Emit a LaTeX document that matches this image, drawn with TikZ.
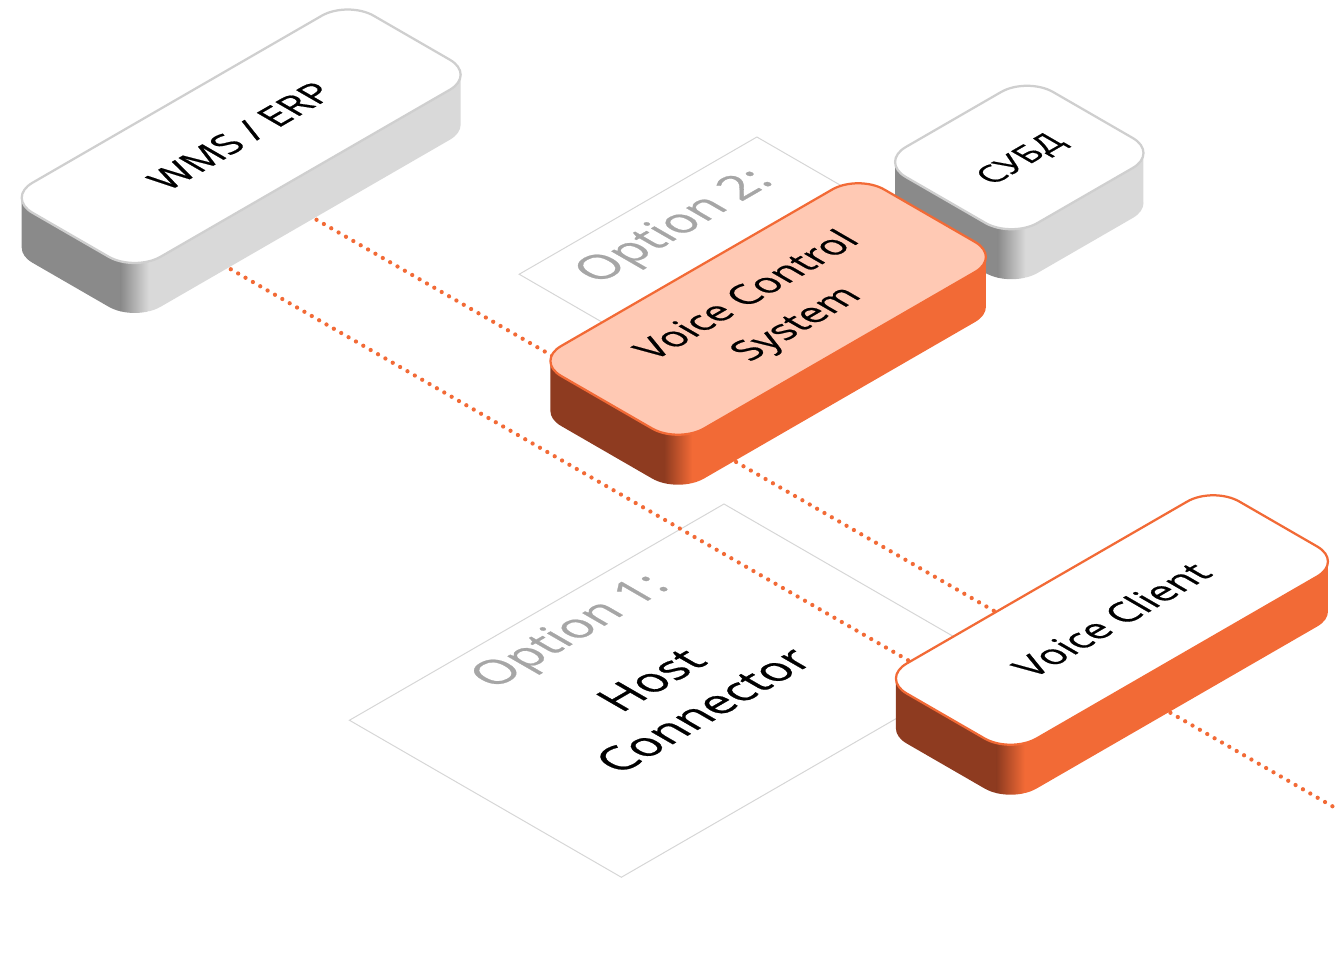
\documentclass[tikz,border=0pt]{standalone}
\usepackage{fontspec}
\setmainfont{Open Sans}
\newfontfamily\labelfont{Open Sans}[FakeBold=0.6]
\definecolor{brand}{HTML}{F26A36}
\definecolor{branddark}{HTML}{8E3B20}
\definecolor{brandpale}{HTML}{FFC9B4}
\definecolor{sidegray}{HTML}{8A8A8A}
\definecolor{sidelight}{HTML}{D9D9D9}
\definecolor{rimgray}{HTML}{CFCFCF}
\definecolor{hint}{HTML}{A6A6A6}

% rounded top face: half length, half width, radius, drop
\newcommand\slabat[4]{%
  (-#1+#3-#4,-#2-#4) -- (#1-#3-#4,-#2-#4) arc[start angle=-90,end angle=0,radius=#3]
  -- (#1-#4,#2-#3-#4) arc[start angle=0,end angle=90,radius=#3]
  -- (-#1+#3-#4,#2-#4) arc[start angle=90,end angle=180,radius=#3]
  -- (-#1-#4,-#2+#3-#4) arc[start angle=180,end angle=270,radius=#3] -- cycle}

% slab: P, Q, half length, half width, top, rim, dark side, light side
\newcommand\slab[8]{%
  \begin{scope}
    \clip[iso,shift={(#1,#2)}] \slabat{#3}{#4}{30}{50}
      (-#3+8.8,#4-8.8) -- ++(-50,-50) -- (#3-58.8,-#4-41.2) -- ++(50,50) -- cycle;
    \path[iso,shift={(#1,#2)}] (-#3,-#4) coordinate (fold);
    \fill[#7] (fold) ++(-700,-300) rectangle ++(686,600);
    \shade[left color=#7,right color=#8] (fold) ++(-14,-300) rectangle ++(28,600);
    \fill[#8] (fold) ++(14,-300) rectangle ++(700,600);
  \end{scope}
  \filldraw[iso,shift={(#1,#2)},fill=#5,draw=#6,line width=0.45mm] \slabat{#3}{#4}{30}{0};
}

\begin{document}
\begin{tikzpicture}[x=0.2mm,y=0.2mm,
  iso/.style={cm={0.866,0.5,-0.866,0.5,(0,0)}},
  frame/.style={draw=black!16,line width=0.2mm},
  link/.style={draw=brand,line width=0.85mm,line cap=round,dash pattern=on 0mm off 1.7mm},
  boxlabel/.style={transform shape,align=center,font=\labelfont\fontsize{22}{32}\selectfont},
  hintlabel/.style={transform shape,text=hint,font=\labelfont\fontsize{27}{33}\selectfont},
  hostlabel/.style={transform shape,align=center,font=\labelfont\fontsize{26.5}{34.5}\selectfont}]
  \useasboundingbox (0,-973) rectangle (1340,0);
  \begin{scope}[iso]
    \draw[frame] (25.5,-834) rectangle (300,-574);
    \draw[frame] (-518.5,-1236) rectangle (-86,-922);
    \node[hintlabel] (opt2) at (163,-618) {Option 2:};
    \node[hintlabel] (opt1) at (-302,-963) {Option 1:};
    \node[hostlabel] (host) at (-304,-1086) {Host\\Connector};
    \coordinate (wms-a) at (-37,-275);
    \coordinate (wms-b) at (-136,-275);
    \coordinate (vc-b) at (-136,-1262);
    \coordinate (exit-a) at (-37,-1584);
    \draw[link] (wms-a) -- (exit-a);
    \draw[link] (wms-b) -- (vc-b);
  \end{scope}
  \slab{3}{-275.5}{197}{74}{white}{rimgray}{sidegray}{sidelight}
  \slab{431}{-746}{85}{76}{white}{rimgray}{sidegray}{sidelight}
  \slab{134.5}{-752.5}{186.5}{82.5}{brandpale}{brand}{branddark}{brand}
  \slab{22}{-1262}{192}{75}{white}{brand}{branddark}{brand}
  \begin{scope}[iso]
    \node[boxlabel] (wms) at (3,-275) {WMS / ERP};
    \node[boxlabel,font=\labelfont\fontsize{19}{24}\selectfont] (dbms) at (430,-750) {СУБД};
    \node[boxlabel] (vcs) at (136,-757) {Voice Control\\System};
    \node[boxlabel] (vc) at (22,-1261) {Voice Client};
  \end{scope}
\end{tikzpicture}
\end{document}
